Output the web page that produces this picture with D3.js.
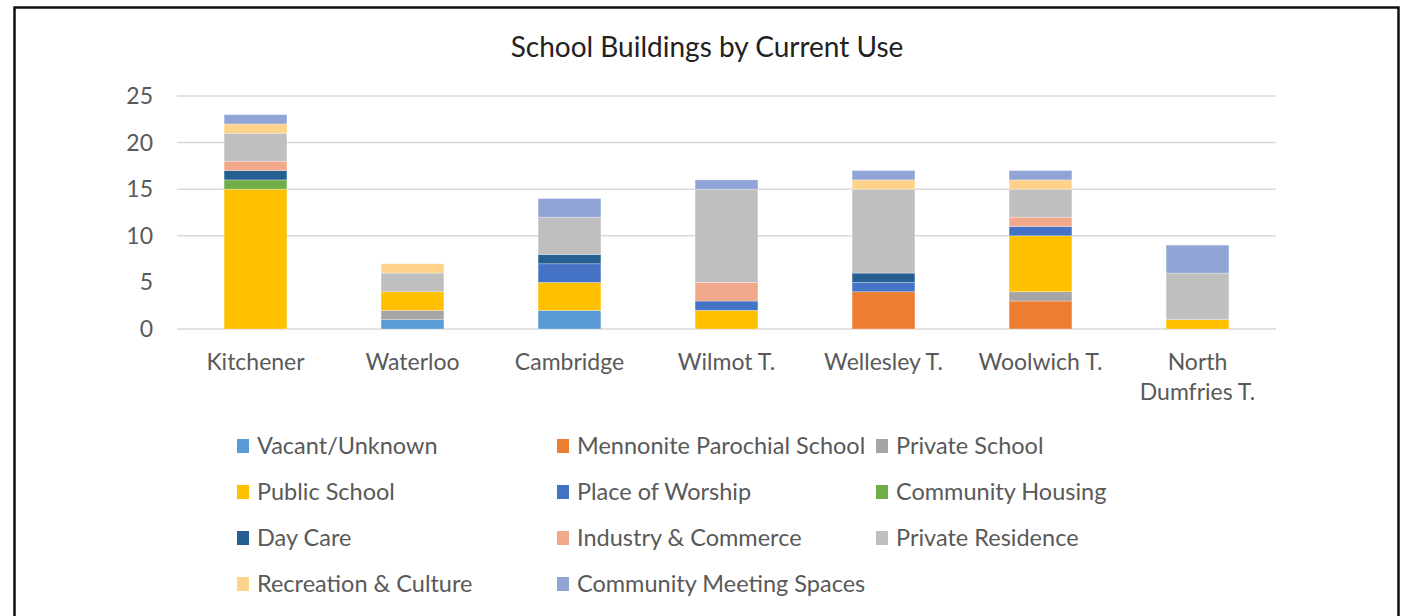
<!DOCTYPE html>
<html>
<head>
<meta charset="utf-8">
<script src="https://cdn.jsdelivr.net/npm/d3@7"></script>
<style>
  html, body { margin: 0; padding: 0; background: #fff; }
  svg { display: block; }
  text { font-family: Lato, "Open Sans", sans-serif; }
</style>
</head>
<body>
<svg id="chart" width="1405" height="616"></svg>
<script>
// ---- data ----
const categories = ["Kitchener", "Waterloo", "Cambridge", "Wilmot T.", "Wellesley T.", "Woolwich T.", "North Dumfries T."];
const seriesNames = ["Vacant/Unknown", "Mennonite Parochial School", "Private School", "Public School",
  "Place of Worship", "Community Housing", "Day Care", "Industry & Commerce", "Private Residence",
  "Recreation & Culture", "Community Meeting Spaces"];
const vacant      = [0, 1, 2, 0, 0, 0, 0];
const mennonite   = [0, 0, 0, 0, 4, 3, 0];
const privSchool  = [0, 1, 0, 0, 0, 1, 0];
const publicSch   = [15, 2, 3, 2, 0, 6, 1];
const worship     = [0, 0, 2, 1, 1, 1, 0];
const commHousing = [1, 0, 0, 0, 0, 0, 0];
const dayCare     = [1, 0, 1, 0, 1, 0, 0];
const industry    = [1, 0, 0, 2, 0, 1, 0];
const residence   = [3, 2, 4, 10, 9, 3, 5];
const recreation  = [1, 1, 0, 0, 1, 1, 0];
const meeting     = [1, 0, 2, 1, 1, 1, 3];
const yTicks = [0, 5, 10, 15, 20, 25];
const colors = ["#5B9BD5", "#ED7D31", "#A5A5A5", "#FFC000", "#4472C4", "#70AD47", "#255E91",
  "#F1A88B", "#BFBFBF", "#FFD28A", "#90A4D5"];

const seriesValues = [vacant, mennonite, privSchool, publicSch, worship, commHousing, dayCare,
  industry, residence, recreation, meeting];

const table = categories.map((c, i) => {
  const row = { category: c };
  seriesNames.forEach((s, j) => row[s] = seriesValues[j][i]);
  return row;
});

const svg = d3.select("#chart");
const textColor = "#595959";
const sy = 1.0;

function stretchedText(g, x, y, str, size, anchor, fill) {
  return g.append("text")
    .attr("transform", `translate(${x},${y}) scale(1,${sy})`)
    .attr("text-anchor", anchor)
    .attr("font-size", size)
    .attr("fill", fill)
    .text(str);
}

// frame
svg.append("rect")
  .attr("x", 14.5).attr("y", 7.5).attr("width", 1384).attr("height", 720)
  .attr("fill", "none").attr("stroke", "#111").attr("stroke-width", 2.5);

// title
stretchedText(svg, 707, 57, "School Buildings by Current Use", 28, "middle", "#222");

const plot = { left: 177, right: 1276, top: 96, bottom: 329 };
const x = d3.scaleBand().domain(categories).range([plot.left, plot.right])
  .paddingInner(0.6).paddingOuter(0.3);
const y = d3.scaleLinear().domain([0, 25]).range([plot.bottom, plot.top]);

// gridlines (the reference shows no line at 5)
const grid = svg.append("g");
grid.selectAll("line").data(yTicks.filter(t => t !== 5)).join("line")
  .attr("x1", plot.left).attr("x2", plot.right)
  .attr("y1", d => y(d)).attr("y2", d => y(d))
  .attr("stroke", "#D9D9D9").attr("stroke-width", 1.5);

// y tick labels
const yl = svg.append("g");
yTicks.forEach(t => stretchedText(yl, 153, y(t) + 8, String(t), 23, "end", textColor));

// stacked bars
const stack = d3.stack().keys(seriesNames)(table);
const bars = svg.append("g");
stack.forEach((layer, j) => {
  bars.append("g").attr("fill", colors[j])
    .selectAll("rect").data(layer.filter(d => d[1] - d[0] > 0)).join("rect")
    .attr("x", d => x(d.data.category))
    .attr("width", x.bandwidth())
    .attr("y", d => y(d[1]))
    .attr("height", d => y(d[0]) - y(d[1]))
    .attr("stroke", "#fff").attr("stroke-opacity", 0.35).attr("stroke-width", 0.8);
});

// x labels (wrapped like the original)
const xl = svg.append("g");
categories.forEach(c => {
  const cx = x(c) + x.bandwidth() / 2;
  const lines = c === "North Dumfries T." ? ["North", "Dumfries T."] : [c];
  lines.forEach((ln, k) => stretchedText(xl, cx, 370 + k * 30, ln, 23, "middle", textColor));
});

// legend
const legend = svg.append("g");
const colX = [237, 557, 876];
seriesNames.forEach((s, i) => {
  const col = i % 3, row = Math.floor(i / 3);
  const lx = colX[col], ly = 446 + row * 46;
  legend.append("rect").attr("x", lx).attr("y", ly - 7).attr("width", 12).attr("height", 14)
    .attr("fill", colors[i]);
  stretchedText(legend, lx + 20, ly + 8, s, 23.5, "start", textColor);
});
</script>
</body>
</html>
